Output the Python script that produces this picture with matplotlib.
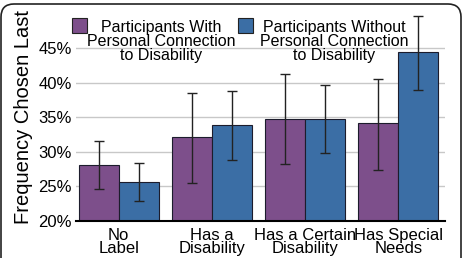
import matplotlib
matplotlib.use('Agg')
import numpy as np
import matplotlib.pyplot as plt
from matplotlib.patches import FancyBboxPatch, Rectangle

plt.rcParams['font.family'] = ['Liberation Sans', 'DejaVu Sans']

# data (percent)
categories = ['No\nLabel', 'Has a\nDisability', 'Has a Certain\nDisability', 'Has Special\nNeeds']
series_names = ['Participants With\nPersonal Connection\nto Disability',
                'Participants Without\nPersonal Connection\nto Disability']
with_mean = [28.1, 32.1, 34.7, 34.1]
with_low = [24.6, 25.4, 28.2, 27.4]
with_high = [31.6, 38.5, 41.3, 40.5]
without_mean = [25.6, 33.8, 34.7, 44.4]
without_low = [22.9, 28.8, 29.8, 38.9]
without_high = [28.3, 38.8, 39.7, 49.7]
yticks = [20, 25, 30, 35, 40, 45]

purple = '#7d4f8b'
blue = '#3b6ea5'

fig = plt.figure(figsize=(4.63, 2.58), dpi=100)
ax = fig.add_axes([0.164, 0.145, 0.797, 0.802])

x = np.arange(len(categories))
w = 0.43
m1 = np.array(with_mean)
m2 = np.array(without_mean)
err1 = [m1 - np.array(with_low), np.array(with_high) - m1]
err2 = [m2 - np.array(without_low), np.array(without_high) - m2]

ax.bar(x - w / 2, m1 - 20, w, bottom=20, color=purple, edgecolor='#1c1c2c', linewidth=0.8, zorder=2)
ax.bar(x + w / 2, m2 - 20, w, bottom=20, color=blue, edgecolor='#1c1c2c', linewidth=0.8, zorder=2)
ax.errorbar(x - w / 2, m1, yerr=err1, fmt='none', ecolor='#222222', elinewidth=1.0, capsize=3.5, capthick=1.0, zorder=3, clip_on=False)
ax.errorbar(x + w / 2, m2, yerr=err2, fmt='none', ecolor='#222222', elinewidth=1.0, capsize=3.5, capthick=1.0, zorder=3, clip_on=False)

ax.set_ylim(20, 50)
ax.set_xlim(-0.46, 3.5)
ax.set_yticks(yticks)
ax.set_yticklabels([f'{t}%' for t in yticks], fontsize=12)
ax.set_xticks(x)
ax.set_xticklabels(categories, fontsize=12, linespacing=0.9)
ax.tick_params(axis='y', length=0, pad=3)
ax.tick_params(axis='x', length=0, pad=5)
ax.yaxis.grid(True, color='#c8c8c8', linewidth=1.0, zorder=0)
ax.set_axisbelow(True)
for s in ['top', 'right', 'left']:
    ax.spines[s].set_visible(False)
ax.spines['bottom'].set_linewidth(1.5)
ax.spines['bottom'].set_zorder(4)
ax.set_ylabel('Frequency Chosen Last', fontsize=14.5)
ax.yaxis.set_label_coords(-0.117, 0.5)

# legend drawn by hand so the squares sit by the first line
leg_sq = [(72, purple), (238, blue)]
leg_tx = [161, 334]
for (px, c), tx, name in zip(leg_sq, leg_tx, series_names):
    fig.patches.append(Rectangle((px / 463, 1 - 33 / 258), 15 / 463, 15 / 258,
                                 transform=fig.transFigure, facecolor=c,
                                 edgecolor='#222222', linewidth=0.8, zorder=5))
    fig.text(tx / 463, 1 - 41.5 / 258, name, ha='center', va='center',
             fontsize=11.5, linespacing=0.92, zorder=5)

# rounded frame
fig.patches.append(FancyBboxPatch((0.01, -0.3), 4.60, 2.84,
                                  boxstyle='round,pad=0,rounding_size=0.13',
                                  transform=fig.dpi_scale_trans, facecolor='none',
                                  edgecolor='#222222', linewidth=1.2))

plt.savefig('out.png', dpi=100)
